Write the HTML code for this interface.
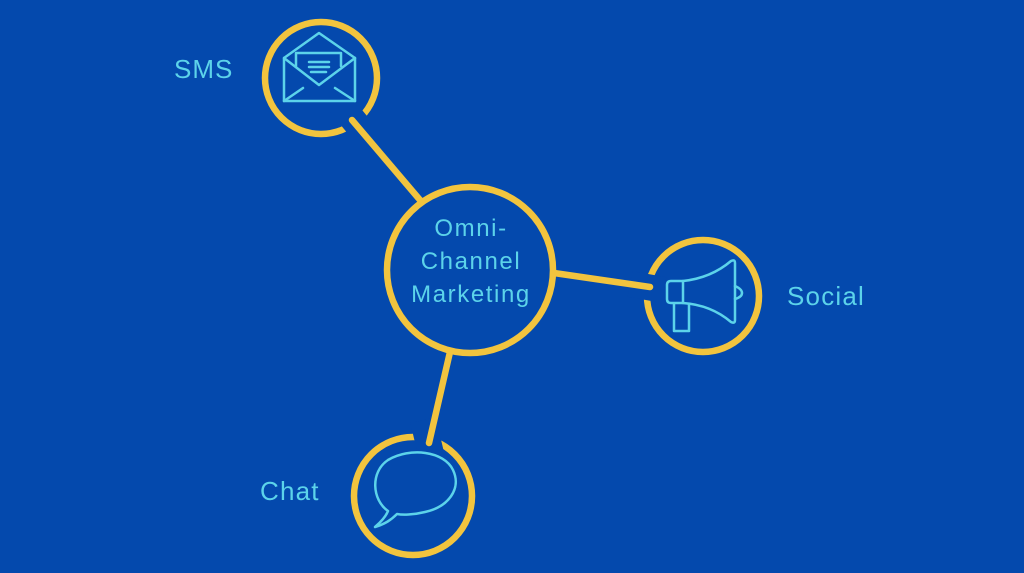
<!DOCTYPE html>
<html><head><meta charset="utf-8"><style>
html,body{margin:0;padding:0;background:#0449ad;}
svg{display:block}
text{font-family:"Liberation Sans",sans-serif;fill:#5cd3ea;}
</style></head><body>
<svg width="1024" height="573" viewBox="0 0 1024 573" xmlns="http://www.w3.org/2000/svg">
<rect width="1024" height="573" fill="#0449ad"/>
<g fill="none" stroke="#f2c43e" stroke-width="6.5" stroke-linecap="round">
  <circle cx="321" cy="78" r="56"/>
  <circle cx="703" cy="296" r="56"/>
  <circle cx="413" cy="496" r="59"/>
</g>
<!-- gaps -->
<g stroke="#0449ad" stroke-width="26" stroke-linecap="butt">
  <line x1="333" y1="95" x2="360" y2="128"/>
  <line x1="630" y1="284" x2="664" y2="290"/>
  <line x1="423" y1="420" x2="432" y2="458"/>
</g>
<g fill="none" stroke="#f2c43e" stroke-width="6.5" stroke-linecap="round">
  <line x1="352" y1="120" x2="420" y2="200"/>
  <line x1="554" y1="273" x2="650" y2="287"/>
  <line x1="450" y1="352" x2="429" y2="443"/>
  <circle cx="470" cy="270" r="83"/>
</g>
<!-- envelope -->
<g fill="none" stroke="#5cd3ea" stroke-width="2.5" stroke-linejoin="round" stroke-linecap="round">
  <path d="M284 58 L319 33 L355 58 L355 101 L284 101 Z"/>
  <path d="M284 58 L319 85 L355 58"/>
  <path d="M296 66 L296 53 L341 53 L341 66"/>
  <line x1="284" y1="101" x2="303" y2="88"/>
  <line x1="355" y1="101" x2="335" y2="88"/>
  <line x1="309" y1="62" x2="329" y2="62"/>
  <line x1="309" y1="67" x2="329" y2="67"/>
  <line x1="311" y1="72" x2="326" y2="72"/>
</g>
<!-- megaphone -->
<g fill="none" stroke="#5cd3ea" stroke-width="2.5" stroke-linejoin="round" stroke-linecap="round">
  <path d="M671 281 L683 281 L683 303 L671 303 Q667 303 667 299 L667 285 Q667 281 671 281 Z"/>
  <path d="M683 281 Q711 278 731 261 Q735 259 735 263 L735 320 Q735 324 731 322 Q711 305 683 303"/>
  <path d="M735 286 Q742 289 742 293 Q742 297 735 299"/>
  <path d="M674 304 L674 331 L689 331 L689 304"/>
</g>
<!-- chat bubble -->
<g fill="none" stroke="#5cd3ea" stroke-width="2.5" stroke-linejoin="round">
  <path d="M388 511 C372 500 370 472 388 460 C410 447 444 451 453 470 C462 489 448 507 425 512 C413 515 402 515 397 514 C391 520 385 524 375 527 C382 521 386 516 388 511 Z"/>
</g>
<!-- labels -->
<text x="174" y="78" font-size="26" letter-spacing="1">SMS</text>
<text x="787" y="305" font-size="26" letter-spacing="1.2">Social</text>
<text x="260" y="500" font-size="26" letter-spacing="1.2">Chat</text>
<g font-size="24" letter-spacing="1.6" text-anchor="middle">
<text x="471" y="236">Omni-</text>
<text x="471" y="269">Channel</text>
<text x="471" y="302">Marketing</text>
</g>
</svg>
</body></html>
